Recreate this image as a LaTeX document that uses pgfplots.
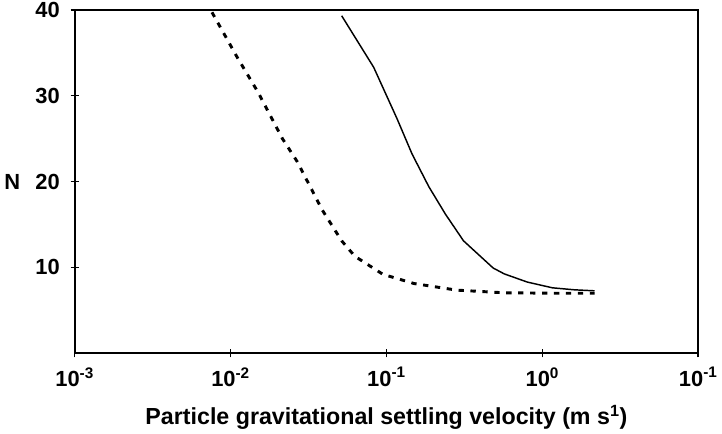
\documentclass[border=0pt]{standalone}
\usepackage{fontspec}
\setmainfont{Liberation Sans}
\usepackage{pgfplots}
\pgfplotsset{compat=1.18}
\begin{document}
\begin{tikzpicture}[x=1pt,y=1pt]
\begin{axis}[
  scale only axis,
  width=470pt, height=259pt,
  xmode=log,
  xmin=1e-3, xmax=1e1,
  ymin=0, ymax=40,
  xtick={1e-3,1e-2,1e-1,1e0,1e1},
  xticklabels={10\textsuperscript{-3},10\textsuperscript{-2},10\textsuperscript{-1},10\textsuperscript{0},10\textsuperscript{-1}},
  ytick={10,20,30,40},
  minor tick length=0pt,
  xtick pos=bottom, ytick pos=left,
  tick align=center,
  major tick length=6pt,
  axis line style={line width=1.4pt},
  every tick/.style={line width=1.2pt, black},
  tick label style={font=\fontsize{16.5}{19}\selectfont\bfseries},
  /pgf/number format/assume math mode=true,
  yticklabel style={inner xsep=0pt, inner ysep=1.5pt, xshift=-8pt},
  xticklabel style={yshift=-4pt},
  xlabel={Particle gravitational settling velocity (m s\textsuperscript{1})},
  xlabel style={font=\fontsize{17.5}{21}\selectfont\bfseries, yshift=-7pt},
  ylabel={N},
  ylabel style={font=\fontsize{16.5}{19}\selectfont\bfseries, rotate=-90, at={(axis description cs:-0.1,0.5)}, anchor=center},
  clip=false,
]
\addplot[black, line width=1.1pt] coordinates {
(0.0516,39.3) (0.0828,33.3) (0.117,27.3) (0.146,23.2) (0.187,19.4) (0.239,16.2) (0.312,13.1) (0.483,9.94) (0.57,9.25) (0.8,8.3) (1.16,7.63) (1.6,7.4) (2.16,7.28)
};
\addplot[black, line width=2.2pt, dash pattern=on 4pt off 5pt] coordinates {
(0.0076,39.7) (0.011,34.5) (0.015,30.4) (0.0215,25.0) (0.0268,22.3) (0.0387,16.7) (0.0516,13.1) (0.0627,11.3) (0.0949,9.2) (0.150,8.13) (0.282,7.36) (0.57,7.05) (1.2,7.0) (2.16,7.0)
};
\end{axis}
\end{tikzpicture}
\end{document}
